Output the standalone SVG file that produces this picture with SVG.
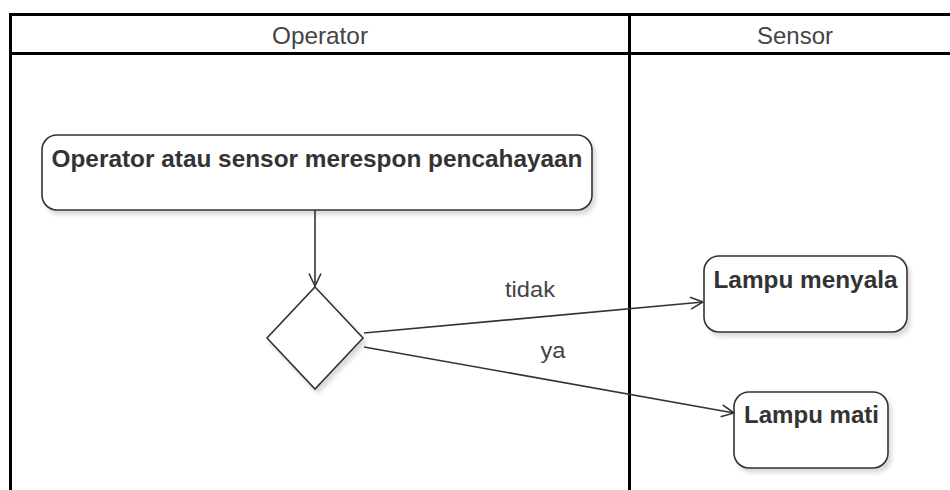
<svg xmlns="http://www.w3.org/2000/svg" width="950" height="490" viewBox="0 0 950 490">
<defs>
<style>
.frame{stroke:#000;stroke-width:3;fill:none}
.hdr{font-family:"Liberation Sans",Arial,sans-serif;font-size:24px;fill:#444;text-anchor:middle}
.node{fill:#fff;stroke:#333;stroke-width:1.6}
.ntxt{font-family:"Liberation Sans",Arial,sans-serif;font-size:24px;font-weight:bold;fill:#333;text-anchor:middle}
.edge{stroke:#333;stroke-width:1.6;fill:none}
.lbl{font-family:"Liberation Sans",Arial,sans-serif;font-size:22px;fill:#444;text-anchor:middle}
</style>
<filter id="sh" x="-10%" y="-10%" width="130%" height="140%">
<feDropShadow dx="3" dy="4" stdDeviation="2" flood-color="#000" flood-opacity="0.15"/>
</filter>
<marker id="arr" viewBox="0 0 14 14" refX="13.5" refY="7" markerWidth="14" markerHeight="14" markerUnits="userSpaceOnUse" orient="auto">
<path d="M1,1 L13.5,7 L1,13" fill="none" stroke="#333" stroke-width="1.6"/>
</marker>
</defs>
<rect width="950" height="490" fill="#fff"/>
<g id="lanes">
<path class="frame" d="M10.5,490 V14.5 H950 M10.5,53.5 H950 M629.5,14.5 V490"/>
<text class="hdr" x="320" y="44" textLength="96" lengthAdjust="spacingAndGlyphs">Operator</text>
<text class="hdr" x="795" y="44" textLength="76" lengthAdjust="spacingAndGlyphs">Sensor</text>
</g>
<g id="respon">
<rect class="node" x="42" y="135" width="550" height="75" rx="15" filter="url(#sh)"/>
<text class="ntxt" x="317" y="167" textLength="531" lengthAdjust="spacingAndGlyphs">Operator atau sensor merespon pencahayaan</text>
</g>
<g id="decision">
<polygon class="node" points="315,287 363,338 315,389 267,338" filter="url(#sh)"/>
</g>
<g id="menyala">
<rect class="node" x="704" y="256" width="203" height="76" rx="15" filter="url(#sh)"/>
<text class="ntxt" x="805.5" y="288" textLength="184" lengthAdjust="spacingAndGlyphs">Lampu menyala</text>
</g>
<g id="mati">
<rect class="node" x="734" y="392" width="154" height="76" rx="15" filter="url(#sh)"/>
<text class="ntxt" x="811.5" y="423" textLength="135" lengthAdjust="spacingAndGlyphs">Lampu mati</text>
</g>
<g id="connectors">
<path class="edge" d="M315,210 V286" marker-end="url(#arr)"/>
<path class="edge" d="M364,333 L703,302" marker-end="url(#arr)"/>
<path class="edge" d="M364,347 L734,413" marker-end="url(#arr)"/>
<text class="lbl" x="530" y="297" textLength="50" lengthAdjust="spacingAndGlyphs">tidak</text>
<text class="lbl" x="553" y="358" textLength="25" lengthAdjust="spacingAndGlyphs">ya</text>
</g>
</svg>
